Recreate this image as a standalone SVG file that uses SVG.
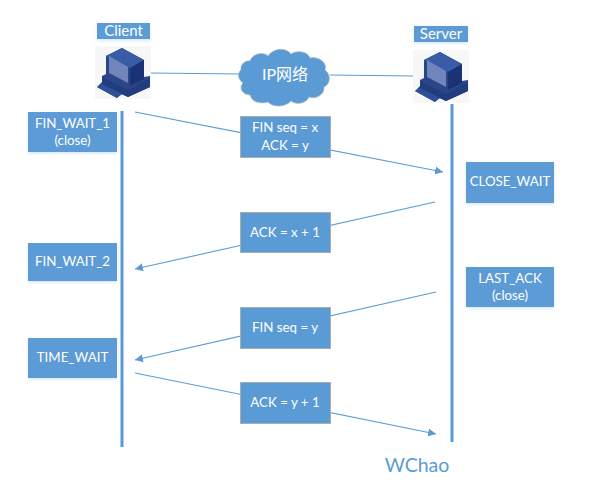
<svg xmlns="http://www.w3.org/2000/svg" width="597" height="488" viewBox="0 0 597 488">
<style>
text{font-family:Lato,"Noto Sans CJK SC",sans-serif;font-size:13.300px;fill:#fff;text-anchor:middle}
.box{fill:#5b9bd5;filter:url(#sh)}
.msg{fill:#5b9bd5;stroke:#a9adb1;stroke-width:1}
.life{stroke:#5b9bd5;stroke-width:3;fill:none}
.arr{stroke:#5b9bd5;stroke-width:1.1;fill:none;marker-end:url(#a)}
.lnk{stroke:#5b9bd5;stroke-width:1.1;fill:none}
.hd{font-size:15px}
</style>
<defs>
<filter id="sh" x="-10%" y="-10%" width="120%" height="130%"><feDropShadow dx="0" dy="1.5" stdDeviation="1.5" flood-color="#5b9bd5" flood-opacity=".25"/></filter>
<marker id="a" markerWidth="9" markerHeight="8" refX="8" refY="4" orient="auto" markerUnits="userSpaceOnUse"><path d="M0 0L8 4L0 8Z" fill="#5b9bd5"/></marker>
<symbol id="pc" width="56" height="54" viewBox="0 0 56 54" overflow="visible">
<rect width="56" height="53" fill="#f7f7f7"/>
<path d="M11 10L27 2L49 14L49 31L55 30L55 41L33 51L24 47L22 52L2 41L7 36L7 30L11 28Z" fill="#2a4688"/>
<path d="M11 10L27 2L49 14L35 22Z" fill="#3a5ba6"/>
<path d="M35 22L49 14L49 33L35 40Z" fill="#1b3374"/>
<path d="M14 10L33 21L33 37L14 27Z" fill="#6f85bb"/>
<path d="M2 41L13 35L31 45L22 52Z" fill="#2f4f98"/>
<path d="M7 31L33 44L55 32L55 41L33 51L7 38Z" fill="#223c80"/>
</symbol>
</defs>
<g id="connectors">
<path class="lnk" d="M150 73L241 74"/>
<path class="lnk" d="M330 75L414 76"/>
<path class="life" d="M122 111V447"/>
<path class="life" d="M452 104V442"/>
<path class="arr" d="M135 112L443 172"/>
<path class="arr" d="M435 202L135 269"/>
<path class="arr" d="M436 292L135 360"/>
<path class="arr" d="M135 373L436 434"/>
</g>
<g id="client"><rect class="box" x="97" y="23" width="53" height="16"/><text class="hd" x="123.500" y="35.500">Client</text><use href="#pc" x="95" y="46"/></g>
<g id="server"><rect class="box" x="414" y="26" width="54" height="16"/><text class="hd" x="441" y="38.500">Server</text><use href="#pc" x="413" y="50"/></g>
<g id="cloud"><path d="M241 70C240 64 246 60 250 61C252 54 263 51 268 56C273 48 286 47 291 54C296 50 308 51 310 58C317 56 328 62 325 70C331 74 331 84 324 87C325 94 316 100 309 97C306 104 296 105 291 101C286 107 273 108 268 102C262 104 252 103 250 95C243 95 238 88 243 83C238 80 237 73 241 70Z" fill="#5b9bd5" stroke="#b4bac0" stroke-width=".8"/><text x="285" y="80" style="font-size:16px">IP网络</text></g>
<g id="fin-wait-1"><rect class="box" x="28" y="112" width="89" height="40"/><text x="72.500" y="128">FIN_WAIT_1</text><text x="72.500" y="145">(close)</text></g>
<g id="fin-wait-2"><rect class="box" x="28" y="243" width="89" height="38"/><text x="72.500" y="266">FIN_WAIT_2</text></g>
<g id="time-wait"><rect class="box" x="28" y="338" width="89" height="40"/><text x="72.500" y="362">TIME_WAIT</text></g>
<g id="close-wait"><rect class="box" x="466" y="162" width="88" height="41"/><text x="510" y="186">CLOSE_WAIT</text></g>
<g id="last-ack"><rect class="box" x="466" y="267" width="88" height="40"/><text x="510" y="283">LAST_ACK</text><text x="510" y="300">(close)</text></g>
<g id="msg-fin-x"><rect class="msg" x="240.500" y="116.500" width="90" height="41"/><text x="285" y="132">FIN seq = x</text><text x="285" y="150">ACK = y</text></g>
<g id="msg-ack-x"><rect class="msg" x="240.500" y="212.500" width="90" height="40"/><text x="285" y="237">ACK = x + 1</text></g>
<g id="msg-fin-y"><rect class="msg" x="240.500" y="307.500" width="90" height="41"/><text x="285" y="332">FIN seq = y</text></g>
<g id="msg-ack-y"><rect class="msg" x="240.500" y="382.500" width="90" height="41"/><text x="285" y="407">ACK = y + 1</text></g>
<g id="author"><text x="417" y="472" style="font-size:19.500px;fill:#5b9bd5">WChao</text></g>
</svg>
